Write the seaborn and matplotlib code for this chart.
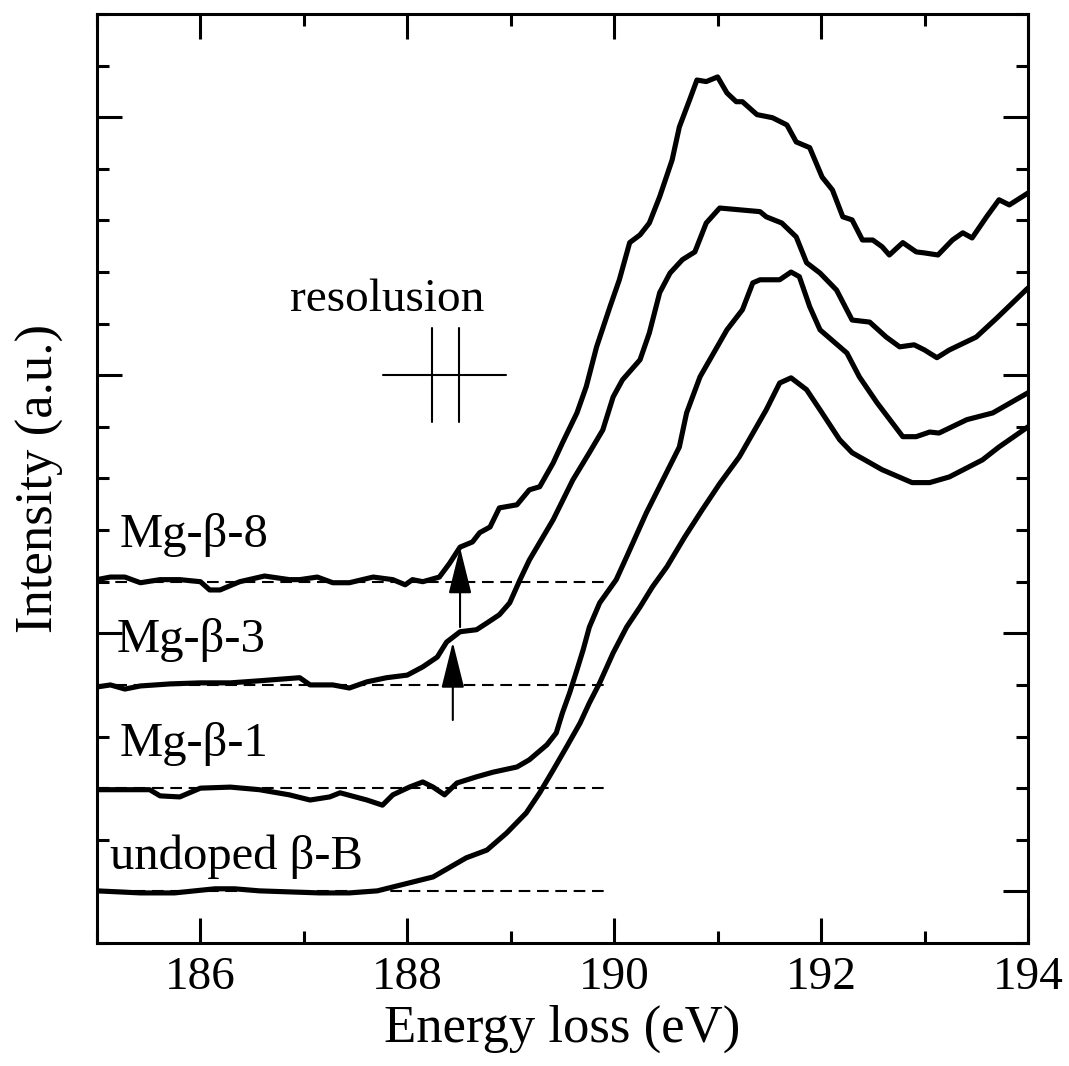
import numpy as np
import pandas as pd
import matplotlib
matplotlib.use("Agg")
import matplotlib.pyplot as plt
from matplotlib.ticker import MultipleLocator, FixedLocator
import seaborn as sns

# ---------------- data ----------------
undoped_E = [185.00, 185.42, 185.75, 186.14, 186.33, 186.57, 187.15, 187.44, 187.71, 187.93,
             188.25, 188.57, 188.77, 188.96, 189.15, 189.28, 189.41, 189.54, 189.67, 189.76,
             189.86, 189.99, 190.12, 190.25, 190.37, 190.51, 190.68, 190.85, 191.02, 191.21,
             191.47, 191.60, 191.71, 191.86, 191.99, 192.18, 192.30, 192.59, 192.88, 193.05,
             193.24, 193.56, 193.72, 194.00]
undoped_I = [1.01, 0.97, 0.97, 1.05, 1.05, 1.01, 0.97, 0.97, 1.01, 1.12,
             1.28, 1.65, 1.80, 2.13, 2.52, 2.91, 3.35, 3.80, 4.26, 4.65,
             5.04, 5.62, 6.12, 6.51, 6.90, 7.29, 7.86, 8.39, 8.90, 9.42,
             10.33, 10.85, 10.95, 10.72, 10.33, 9.75, 9.50, 9.17, 8.92, 8.92,
             9.03, 9.36, 9.61, 10.00]

mg1_E = [185.00, 185.51, 185.61, 185.80, 186.00, 186.29, 186.57, 186.86, 187.06, 187.25,
         187.35, 187.61, 187.76, 187.86, 188.02, 188.15, 188.25, 188.36, 188.48, 188.67,
         188.83, 189.06, 189.18, 189.35, 189.44, 189.50, 189.57, 189.64, 189.70, 189.76,
         189.86, 190.02, 190.12, 190.31, 190.47, 190.63, 190.70, 190.83, 191.09, 191.24,
         191.34, 191.41, 191.60, 191.71, 191.79, 191.89, 191.99, 192.25, 192.37, 192.54,
         192.79, 192.92, 193.05, 193.14, 193.41, 193.66, 194.00]
mg1_I = [2.97, 2.97, 2.85, 2.83, 3.00, 3.02, 2.97, 2.87, 2.77, 2.83,
         2.91, 2.77, 2.67, 2.87, 3.02, 3.12, 3.02, 2.87, 3.10, 3.22,
         3.31, 3.41, 3.55, 3.84, 4.07, 4.46, 4.85, 5.29, 5.68, 6.12,
         6.59, 7.04, 7.48, 8.33, 8.97, 9.61, 10.27, 10.97, 11.88, 12.27,
         12.79, 12.85, 12.85, 13.00, 12.91, 12.33, 11.88, 11.43, 10.97, 10.47,
         9.81, 9.81, 9.90, 9.88, 10.14, 10.27, 10.66]

mg3_E = [185.00, 185.13, 185.27, 185.42, 185.71, 186.00, 186.29, 186.57, 186.96, 187.06,
         187.28, 187.44, 187.61, 187.80, 188.00, 188.15, 188.29, 188.38, 188.51, 188.67,
         188.77, 188.89, 188.99, 189.09, 189.18, 189.41, 189.60, 189.76, 189.89, 189.99,
         190.08, 190.25, 190.34, 190.44, 190.54, 190.66, 190.78, 190.89, 191.02, 191.41,
         191.47, 191.62, 191.76, 191.86, 191.99, 192.15, 192.30, 192.47, 192.63, 192.76,
         192.90, 193.00, 193.12, 193.24, 193.50, 193.70, 194.00]
mg3_I = [4.96, 5.00, 4.92, 4.98, 5.02, 5.04, 5.04, 5.08, 5.14, 5.00,
         5.00, 4.94, 5.06, 5.14, 5.19, 5.35, 5.54, 5.83, 6.03, 6.07,
         6.20, 6.36, 6.59, 7.04, 7.42, 8.20, 8.97, 9.50, 9.94, 10.58,
         10.91, 11.30, 11.82, 12.60, 12.98, 13.24, 13.39, 13.95, 14.24, 14.17,
         14.07, 13.95, 13.68, 13.18, 12.98, 12.65, 12.07, 12.03, 11.74, 11.55,
         11.59, 11.49, 11.34, 11.49, 11.74, 12.11, 12.69]

mg8_E = [185.00, 185.13, 185.27, 185.42, 185.61, 185.80, 186.00, 186.09, 186.19, 186.38,
         186.62, 186.86, 186.96, 187.13, 187.28, 187.44, 187.67, 187.86, 187.98, 188.05,
         188.15, 188.31, 188.41, 188.51, 188.63, 188.70, 188.80, 188.89, 189.06, 189.18,
         189.28, 189.41, 189.50, 189.64, 189.73, 189.83, 189.96, 190.05, 190.15, 190.25,
         190.34, 190.44, 190.56, 190.63, 190.73, 190.80, 190.89, 191.00, 191.09, 191.18,
         191.24, 191.38, 191.53, 191.67, 191.76, 191.89, 192.01, 192.11, 192.21, 192.30,
         192.40, 192.50, 192.59, 192.66, 192.79, 192.92, 193.00, 193.13, 193.27, 193.37,
         193.46, 193.60, 193.72, 193.82, 194.00]
mg8_I = [7.04, 7.09, 7.09, 6.98, 7.04, 7.04, 7.00, 6.84, 6.84, 7.00,
         7.11, 7.04, 7.04, 7.09, 6.98, 6.98, 7.09, 7.04, 6.94, 7.04,
         7.00, 7.09, 7.36, 7.67, 7.77, 7.95, 8.06, 8.43, 8.49, 8.78,
         8.84, 9.30, 9.69, 10.27, 10.78, 11.55, 12.33, 12.85, 13.57, 13.72,
         13.95, 14.46, 15.17, 15.81, 16.34, 16.72, 16.69, 16.78, 16.47, 16.30,
         16.30, 16.05, 15.99, 15.85, 15.52, 15.41, 14.84, 14.59, 14.07, 14.01,
         13.62, 13.62, 13.49, 13.33, 13.57, 13.39, 13.37, 13.33, 13.62, 13.76,
         13.66, 14.07, 14.40, 14.30, 14.53]

sample_names = ["undoped β-B", "Mg-β-1", "Mg-β-3", "Mg-β-8"]
baselines = [1, 3, 5, 7]
baseline_end = 189.95
label_pos_E = [185.13, 185.22, 185.19, 185.22]
label_pos_I = [1.43, 3.62, 5.64, 7.67]

arrow_E = [188.44, 188.51]
arrow_from = [4.32, 6.12]
arrow_to = [5.83, 7.66]

res_h_E = [187.77, 188.95]
res_level = 11.0
res_v_E = [188.24, 188.50]
res_v_span = [10.10, 11.92]

# ---------------- style ----------------
sns.set_theme(style="ticks")
plt.rcParams["font.family"] = ["Liberation Serif", "DejaVu Serif"]
plt.rcParams["axes.linewidth"] = 2.2
plt.rcParams["text.color"] = "black"
plt.rcParams["axes.labelcolor"] = "black"
plt.rcParams["xtick.color"] = "black"
plt.rcParams["ytick.color"] = "black"
plt.rcParams["axes.edgecolor"] = "black"

fig = plt.figure(figsize=(10.69, 10.66), dpi=100)
ax = fig.add_axes([0.0907, 0.1154, 0.8709, 0.8715])

frames = []
for name, E, I in [("undoped β-B", undoped_E, undoped_I), ("Mg-β-1", mg1_E, mg1_I),
                   ("Mg-β-3", mg3_E, mg3_I), ("Mg-β-8", mg8_E, mg8_I)]:
    frames.append(pd.DataFrame({"E": E, "I": I, "sample": name}))
df = pd.concat(frames, ignore_index=True)

for name in sample_names:
    sub = df[df["sample"] == name]
    sns.lineplot(data=sub, x="E", y="I", ax=ax, color="black", linewidth=3.7,
                 sort=False, estimator=None, legend=False,
                 solid_capstyle="round", solid_joinstyle="round")

# dashed baselines
for b in baselines:
    ax.plot([185, baseline_end], [b, b], color="black", lw=1.5, ls=(0, (5.6, 3.2)), zorder=1)

# labels
for name, xe, yi in zip(sample_names, label_pos_E, label_pos_I):
    ax.text(xe, yi, name, fontsize=35, ha="left", va="baseline", color="black")

# arrows
for xe, y0, y1 in zip(arrow_E, arrow_from, arrow_to):
    ax.annotate("", xy=(xe, y1), xytext=(xe, y0),
                arrowprops=dict(arrowstyle="-|>,head_length=1.45,head_width=0.36",
                                mutation_scale=20, color="black", lw=1.5,
                                shrinkA=0, shrinkB=0))

# resolution marker
ax.plot(res_h_E, [res_level, res_level], color="black", lw=1.5)
for xe in res_v_E:
    ax.plot([xe, xe], res_v_span, color="black", lw=1.5)
ax.text(187.81, 12.25, "resolusion", fontsize=34, ha="center", va="baseline", color="black")

# axes
ax.set_xlim(185, 194)
ax.set_ylim(0, 18)
ax.xaxis.set_major_locator(MultipleLocator(2))
ax.xaxis.set_minor_locator(MultipleLocator(1))
ax.yaxis.set_major_locator(FixedLocator([1, 6, 11, 16]))
ax.yaxis.set_minor_locator(MultipleLocator(1))
ax.tick_params(which="both", direction="in", top=True, right=True,
               width=2.2, color="black", labelcolor="black")
ax.tick_params(which="major", length=18)
ax.tick_params(which="minor", length=8.6)
ax.tick_params(axis="x", labelsize=34, pad=10)
ax.tick_params(axis="y", labelleft=False)
for s in ax.spines.values():
    s.set_color("black")
    s.set_linewidth(2.2)

ax.set_xlabel("Energy loss (eV)", fontsize=38, labelpad=4, color="black")
ax.set_ylabel("Intensity (a.u.)", fontsize=38, labelpad=20, color="black")

fig.savefig("out.png", dpi=100)
